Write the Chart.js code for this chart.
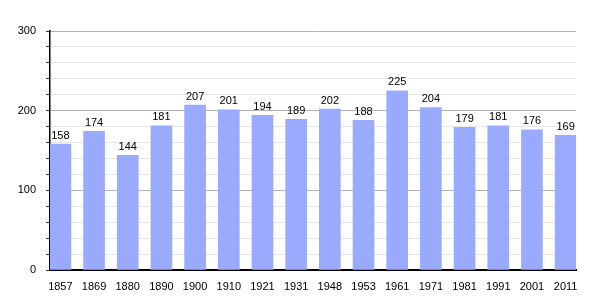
<!DOCTYPE html>
<html>
<head>
<meta charset="utf-8">
<script src="https://cdn.jsdelivr.net/npm/chart.js@4/dist/chart.umd.min.js"></script>
<style>
  html, body { margin: 0; padding: 0; background: #fff; }
  #wrap { width: 605px; height: 300px; position: relative; }
</style>
</head>
<body>
<div id="wrap"><canvas id="popChart"></canvas></div>
<script>
// Population by census year
const years = ['1857', '1869', '1880', '1890', '1900', '1910', '1921', '1931',
               '1948', '1953', '1961', '1971', '1981', '1991', '2001', '2011'];
const population = [158, 174, 144, 181, 207, 201, 194, 189, 202, 188, 225, 204, 179, 181, 176, 169];
const yMax = 300;
const yStep = 20;

const FONT = '"Liberation Sans", Arial, sans-serif';

// draw the value above each bar
const valueLabels = {
  id: 'valueLabels',
  afterDatasetsDraw(chart) {
    const ctx = chart.ctx;
    const meta = chart.getDatasetMeta(0);
    ctx.save();
    ctx.font = '11px ' + FONT;
    ctx.fillStyle = '#000';
    ctx.textAlign = 'center';
    ctx.textBaseline = 'bottom';
    meta.data.forEach((bar, i) => {
      ctx.fillText(String(population[i]), bar.x, bar.y - 3);
    });
    ctx.restore();
  }
};

const yTicks = [];
for (let v = 0; v <= yMax; v += yStep) yTicks.push({ value: v });

const ctx = document.getElementById('popChart').getContext('2d');
new Chart(ctx, {
  type: 'bar',
  data: {
    datasets: [{
      data: population.map((v, i) => ({ x: i, y: v })),
      backgroundColor: '#99aaff',
      barThickness: 21
    }]
  },
  options: {
    responsive: true,
    maintainAspectRatio: false,
    animation: false,
    layout: { padding: { top: 31, right: 29, left: 0, bottom: 0 } },
    plugins: {
      legend: { display: false },
      tooltip: { enabled: false }
    },
    scales: {
      x: {
        type: 'linear',
        offset: false,
        min: -0.308,
        max: 15.308,
        afterBuildTicks: scale => { scale.ticks = years.map((_, i) => ({ value: i })); },
        afterFit: scale => { scale.height = 30; },
        grid: { display: false, offset: false },
        border: { color: '#000', width: 2 },
        ticks: {
          autoSkip: false,
          maxRotation: 0,
          padding: 2,
          color: '#000',
          font: { family: FONT, size: 11 },
          callback: v => years[v] ?? ''
        }
      },
      y: {
        min: 0,
        max: yMax,
        afterBuildTicks: scale => { scale.ticks = yTicks.map(t => ({ value: t.value })); },
        afterFit: scale => { scale.width = 50; },
        border: { color: '#000', width: 1.5 },
        grid: {
          color: c => (c.tick && c.tick.value % 100 === 0) ? '#b4b4b4' : '#e6e6e6',
          tickColor: '#333',
          tickLength: 4,
          lineWidth: 1
        },
        ticks: {
          autoSkip: false,
          padding: 10,
          color: '#000',
          font: { family: FONT, size: 11 },
          callback: v => (v % 100 === 0 ? v : '')
        }
      }
    }
  },
  plugins: [valueLabels]
});
</script>
</body>
</html>
